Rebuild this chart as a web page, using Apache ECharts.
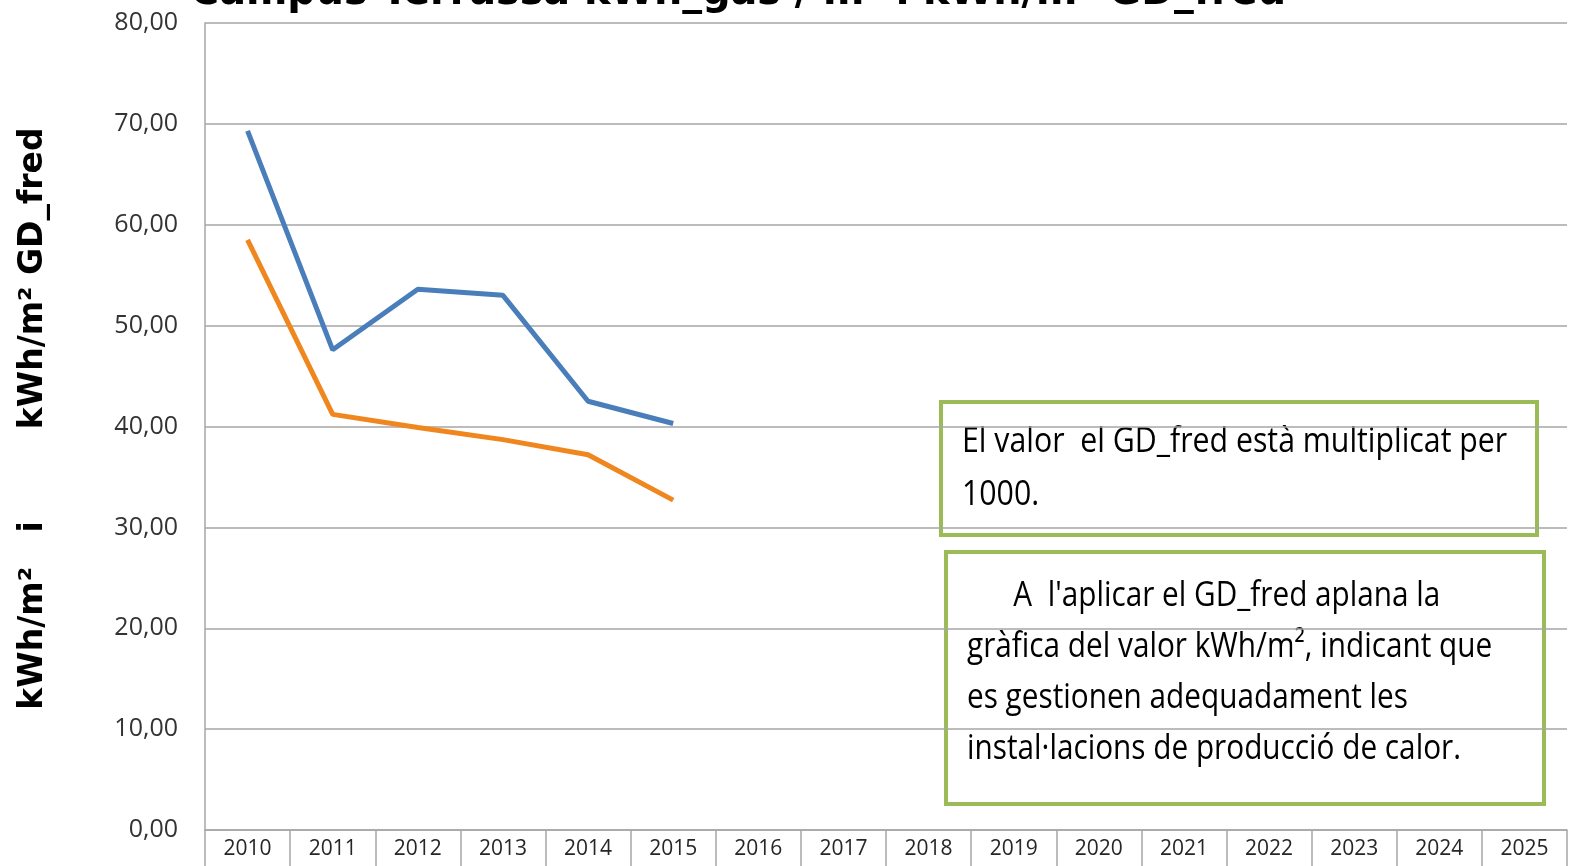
<!DOCTYPE html>
<html>
<head>
<meta charset="utf-8">
<script src="https://cdn.jsdelivr.net/npm/echarts@6/dist/echarts.min.js"></script>
<style>
  html, body { margin: 0; padding: 0; background: #fff; }
  #chart { width: 1575px; height: 866px; }
</style>
</head>
<body>
<div id="chart"></div>
<script>
var years = ['2010','2011','2012','2013','2014','2015','2016','2017','2018','2019','2020','2021','2022','2023','2024','2025'];
var kwhGas = [69.3, 47.6, 53.6, 53.0, 42.5, 40.3];
var kwhGdFred = [58.5, 41.2, 39.9, 38.7, 37.2, 32.7];
var yTicks = [0, 80, 10];

var narrow = '"Open Sans", sans-serif';
var gridColor = '#a6a6a6';

var chart = echarts.init(document.getElementById('chart'));

option = {
    backgroundColor: 'white',
    animation: false,
    grid: {
        left: 205,
        right: 8,
        top: 23,
        bottom: 36
    },
    xAxis: [
        {
            type: 'category',
            data: years,
            boundaryGap: true,
            axisLine: {lineStyle: {color: gridColor, width: 1.5}},
            axisTick: {
                show: true,
                length: 38,
                lineStyle: {color: gridColor, width: 1.5}
            },
            axisLabel: {
                fontFamily: narrow,
                fontSize: 21,
                color: '#262626',
                margin: 9
            }
        }
    ],
    yAxis: [
        {
            type: 'value',
            min: yTicks[0],
            max: yTicks[1],
            interval: yTicks[2],
            name: 'kWh/m²   i        kWh/m² GD_fred',
            nameLocation: 'middle',
            nameGap: 155,
            nameTextStyle: {
                fontFamily: '"DejaVu Sans", sans-serif',
                fontWeight: 'bold',
                fontSize: 33,
                color: '#000',
                padding: [0, 0, 0, 16]
            },
            axisLine: {show: true, lineStyle: {color: gridColor, width: 1.5}},
            axisTick: {show: false},
            splitLine: {lineStyle: {color: gridColor, width: 1.5}},
            axisLabel: {
                fontFamily: narrow,
                fontSize: 25,
                color: '#333',
                margin: 27,
                formatter: function (v) { return v.toFixed(2).replace('.', ','); }
            }
        }
    ],
    graphic: [
        {
            type: 'text',
            x: 190, y: -28,
            scaleX: 0.945,
            style: {
                text: 'Campus Terrassa kWh_gas / m² i kWh/m² GD_fred',
                font: 'bold 42px "DejaVu Sans", sans-serif',
                fill: '#000'
            }
        },
        {
            type: 'rect',
            shape: {x: 941, y: 402, width: 596, height: 133},
            style: {fill: '#fff', stroke: '#9BBB59', lineWidth: 4}
        },
        {
            type: 'text',
            x: 962, y: 416,
            scaleX: 0.865,
            style: {
                text: 'El valor  el GD_fred està multiplicat per\n1000.',
                font: '35px ' + narrow,
                lineHeight: 53,
                fill: '#000'
            }
        },
        {
            type: 'rect',
            shape: {x: 946, y: 552, width: 598, height: 252},
            style: {fill: '#fff', stroke: '#9BBB59', lineWidth: 4}
        },
        {
            type: 'text',
            x: 967, y: 571,
            scaleX: 0.85,
            style: {
                text: "      A  l'aplicar el GD_fred aplana la\ngràfica del valor kWh/m², indicant que\nes gestionen adequadament les\ninstal·lacions de producció de calor.",
                font: '35px ' + narrow,
                lineHeight: 51,
                fill: '#000'
            }
        }
    ],
    series: [
        {
            name: 'kWh/m²',
            type: 'line',
            data: kwhGas,
            symbol: 'none',
            lineStyle: {color: '#4A7EBB', width: 5},
            z: 3
        },
        {
            name: 'kWh/m² GD_fred',
            type: 'line',
            data: kwhGdFred,
            symbol: 'none',
            lineStyle: {color: '#F0861E', width: 5},
            z: 3
        }
    ]
};

chart.setOption(option);
</script>
</body>
</html>
